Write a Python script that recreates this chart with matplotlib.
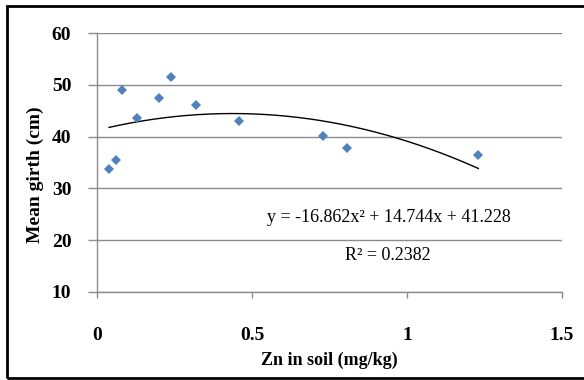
import numpy as np
import matplotlib.pyplot as plt
from matplotlib.patches import Rectangle

# data
zn_soil = [0.039, 0.060, 0.081, 0.128, 0.201, 0.239, 0.319, 0.458, 0.728, 0.807, 1.230]
mean_girth = [33.8, 35.5, 48.9, 43.5, 47.4, 51.5, 46.1, 43.0, 40.1, 37.8, 36.4]
trend_coef = [-16.862, 14.744, 41.228]   # quadratic trendline, as printed on chart
x_ticks = [0, 0.5, 1, 1.5]
x_tick_labels = ["0", "0.5", "1", "1.5"]
y_ticks = [10, 20, 30, 40, 50, 60]

W, H = 584, 380
plt.rcParams['font.family'] = ['Liberation Serif', 'DejaVu Serif']

fig = plt.figure(figsize=(W/100, H/100), dpi=100)
ax = fig.add_axes([97/W, 1-292/H, 465/W, 259/H])

grey = '#8c8c8c'
ax.set_xlim(0, 1.5)
ax.set_ylim(10, 60)
ax.set_xticks(x_ticks)
ax.set_xticklabels(x_tick_labels)
ax.set_yticks(y_ticks)
ax.yaxis.grid(True, color=grey, lw=1)
ax.set_axisbelow(True)
for s in ['top', 'right']:
    ax.spines[s].set_visible(False)
for s in ['left', 'bottom']:
    ax.spines[s].set_color(grey)
    ax.spines[s].set_linewidth(1)
ax.tick_params(axis='y', direction='out', length=6.5, color=grey, width=1, pad=12,
               labelsize=14)
ax.tick_params(axis='x', direction='out', length=4, color=grey, width=1, pad=21,
               labelsize=14)
for lab in ax.get_xticklabels() + ax.get_yticklabels():
    lab.set_fontweight('bold')

# trendline
xs = np.linspace(min(zn_soil), max(zn_soil), 200)
ax.plot(xs, np.polyval(trend_coef, xs), color='black', lw=1)

ax.plot(zn_soil, mean_girth, 'D', color='#4f81bd', markersize=5.5, markeredgewidth=0)

fig.text(389/W, 1-217/H, "y = -16.862x² + 14.744x + 41.228", ha='center', va='center',
         fontsize=13)
fig.text(388/W, 1-256/H, "R² = 0.2382", ha='center', va='center', fontsize=13)

fig.text(329/W, 1-360/H, "Zn in soil (mg/kg)", ha='center', va='center',
         fontsize=13, fontweight='bold')
fig.text(35/W, 1-175/H, "Mean girth (cm)", ha='center', va='center', rotation=90,
         fontsize=14, fontweight='bold')

# outer chart border
fig.patches.append(Rectangle((7/W, 1-378/H), 1.0, 372/H, transform=fig.transFigure,
                             fill=False, edgecolor='black', lw=2, clip_on=False))

fig.savefig('out.png', dpi=100)
